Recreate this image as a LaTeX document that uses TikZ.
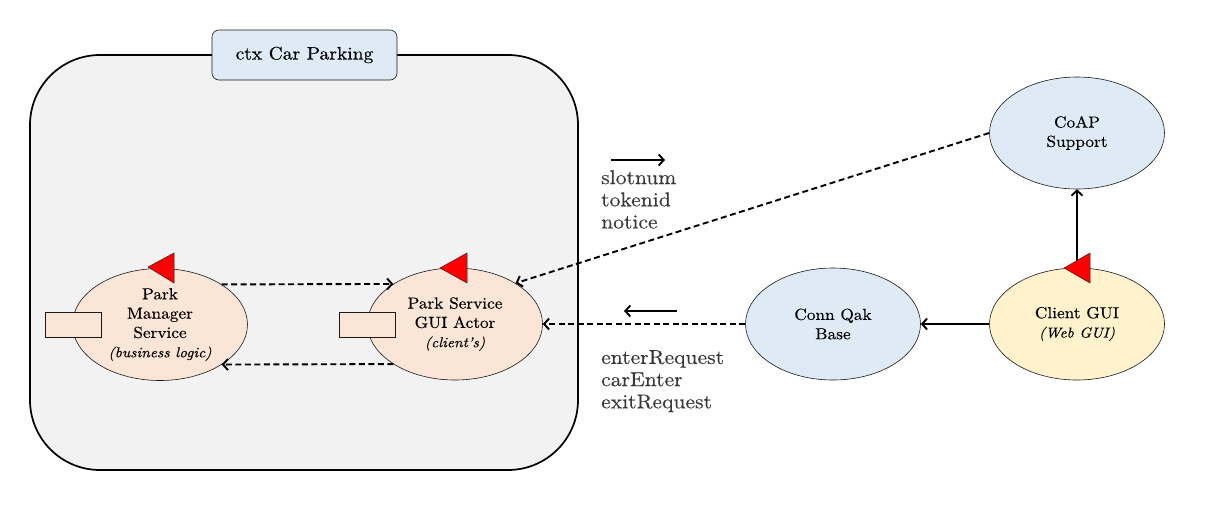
\documentclass[tikz,border=0pt]{standalone}
\usepackage{fontspec}
\setmainfont{lmroman10-regular.otf}[FakeStretch=1.08, FakeBold=0.3, ItalicFont=lmroman10-italic.otf]
\usetikzlibrary{arrows.meta,shapes.geometric}
\definecolor{peach}{HTML}{FBE5D6}
\definecolor{lblue}{HTML}{DEEBF7}
\definecolor{lyellow}{HTML}{FFF2CC}
\definecolor{ctxgray}{HTML}{F2F2F2}
\begin{document}
\begin{tikzpicture}[x=1pt,y=-1pt,
  actor/.style={ellipse, draw=black!90, line width=0.6pt, minimum width=175pt, minimum height=112pt, inner sep=0pt, align=center, font=\fontsize{16}{19.3}\selectfont},
  sub/.style={font=\fontsize{14.3}{19}\itshape},
  smallbox/.style={draw=black!90, line width=0.6pt, fill=peach, minimum width=56pt, minimum height=25pt, inner sep=0pt},
  flag/.style={fill=red, draw=black!85, line width=0.5pt},
  dasharrow/.style={line width=1.9pt, dash pattern=on 6pt off 3.5pt, -{Straight Barb[length=5pt,width=11pt]}},
  solidarrow/.style={line width=1.9pt, -{Straight Barb[length=5pt,width=11pt]}},
  msg/.style={anchor=north west, inner sep=0pt, align=left, text=black!78, font=\fontsize{20}{22.2}\selectfont}
]
\useasboundingbox (0,0) rectangle (1212,509);

% context
\node[draw, line width=1.7pt, fill=ctxgray, rounded corners=70pt, minimum width=548pt, minimum height=415pt, inner sep=0pt] (ctx) at (304,262.5) {};
\node[draw=black!90, line width=0.6pt, fill=lblue, rounded corners=7pt, minimum width=185pt, minimum height=50pt, inner sep=0pt, font=\fontsize{18.1}{22}\selectfont] (title) at (304.5,55) {ctx Car Parking};

% actors
\node[actor, fill=peach] (pms) at (160,324.5) {Park\\Manager\\Service\\{\fontsize{14.3}{19}\itshape (business logic)}};
\node[actor, fill=peach] (psg) at (455,324) {Park Service\\GUI Actor\\{\fontsize{14.3}{19}\itshape (client's)}};
\node[actor, fill=lblue] (conn) at (833,324) {Conn Qak\\Base};
\node[actor, fill=lyellow] (client) at (1077,324) {Client GUI\\{\fontsize{14.3}{19}\itshape (Web GUI)}};
\node[actor, fill=lblue] (coap) at (1077,133) {CoAP\\Support};

% small boxes
\node[smallbox] (pmsbox) at (73,324.5) {};
\node[smallbox] (psgbox) at (367,324.5) {};

% connectors
\draw[dasharrow] (pms.33) -- (psg.147);
\draw[dasharrow] (psg.213) -- (pms.-33);
\draw[dasharrow] (coap.west) -- (psg.34);
\draw[dasharrow] (conn.west) -- (psg.east);
\draw[solidarrow] (client.west) -- (conn.east);
\draw[solidarrow] (client.north) -- (coap.south);

% flags
\draw[flag] (148,267) -- (174,253) -- (174,283) -- cycle;
\draw[flag] (440,268) -- (467,253) -- (467,283) -- cycle;
\draw[flag] (1064,268) -- (1090,253) -- (1090,283) -- cycle;

% message labels
\coordinate (m1a) at (611,160);
\coordinate (m1b) at (665,160);
\draw[solidarrow] (m1a) -- (m1b);
\node[msg] (msg1) at (601,170) {slotnum\\tokenid\\notice};

\coordinate (m2a) at (677,311);
\coordinate (m2b) at (624,311);
\draw[solidarrow] (m2a) -- (m2b);
\node[msg] (msg2) at (601,350) {enterRequest\\carEnter\\exitRequest};
\end{tikzpicture}
\end{document}
